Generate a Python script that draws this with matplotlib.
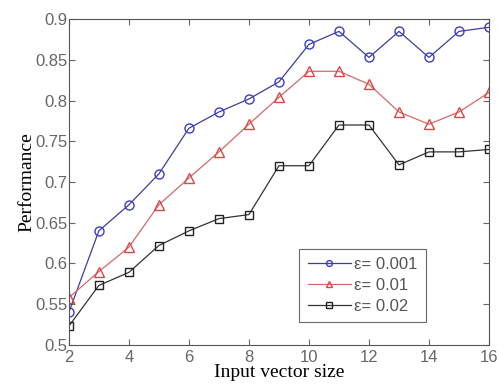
import numpy as np
import matplotlib
matplotlib.use('Agg')
import matplotlib.pyplot as plt

plt.rcParams['font.family'] = ['Liberation Serif', 'DejaVu Serif']

# data
x = [2, 3, 4, 5, 6, 7, 8, 9, 10, 11, 12, 13, 14, 15, 16]
eps_001 = [0.540, 0.640, 0.672, 0.710, 0.766, 0.786, 0.802, 0.823, 0.869, 0.885,
           0.853, 0.885, 0.853, 0.885, 0.890]
eps_01 = [0.558, 0.590, 0.620, 0.672, 0.705, 0.737, 0.771, 0.804, 0.836, 0.836,
          0.820, 0.786, 0.771, 0.786, 0.810]
eps_02 = [0.523, 0.573, 0.589, 0.622, 0.640, 0.655, 0.660, 0.720, 0.720, 0.770,
          0.770, 0.721, 0.737, 0.737, 0.740]
labels = ['ε= 0.001', 'ε= 0.01', 'ε= 0.02']
ytick_labels = ['0.5', '0.55', '0.6', '0.65', '0.7', '0.75', '0.8', '0.85', '0.9']

fig = plt.figure(figsize=(4.99, 3.91), dpi=100)
ax = fig.add_axes([0.138, 0.118, 0.842, 0.833])

ax.plot(x, eps_001, '-o', color='#3a3f9a', mec='#3c3cc8', mfc='none', ms=6.5, lw=0.9, label=labels[0])
ax.plot(x, eps_01, '-^', color='#d06a6a', mec='#d84848', mfc='none', ms=6.5, lw=0.9, label=labels[1])
ax.plot(x, eps_02, '-s', color='#333333', mec='#222222', mfc='none', ms=6, lw=0.9, label=labels[2])

ax.set_xlim(2, 16)
ax.set_ylim(0.5, 0.9)
ax.set_xticks(range(2, 17, 2))
ax.set_yticks(np.arange(0.5, 0.901, 0.05))
ax.set_yticklabels(ytick_labels)
ax.tick_params(direction='in', top=True, right=True, labelsize=12, colors='#666666',
               length=4)
ax.tick_params(axis='y', pad=1)
ax.tick_params(axis='x', pad=4)
for lab in ax.get_xticklabels() + ax.get_yticklabels():
    lab.set_family(['Liberation Sans', 'DejaVu Sans'])
    lab.set_color('#666666')
for s in ax.spines.values():
    s.set_color('#555555')

ax.set_xlabel('Input vector size', fontsize=14, labelpad=-1)
ax.set_ylabel('Performance', fontsize=14, labelpad=0)

leg = ax.legend(loc='lower right', bbox_to_anchor=(0.85, 0.07),
                prop={'family': ['Liberation Sans', 'DejaVu Sans'], 'size': 12},
                fancybox=False, edgecolor='#444444', handlelength=2.6, markerscale=0.65,
                labelspacing=0.35, borderpad=0.5, handletextpad=0.2, borderaxespad=0)
leg.get_frame().set_linewidth(0.8)
for t in leg.get_texts():
    t.set_color('#555555')

fig.savefig('out.png', dpi=100)
